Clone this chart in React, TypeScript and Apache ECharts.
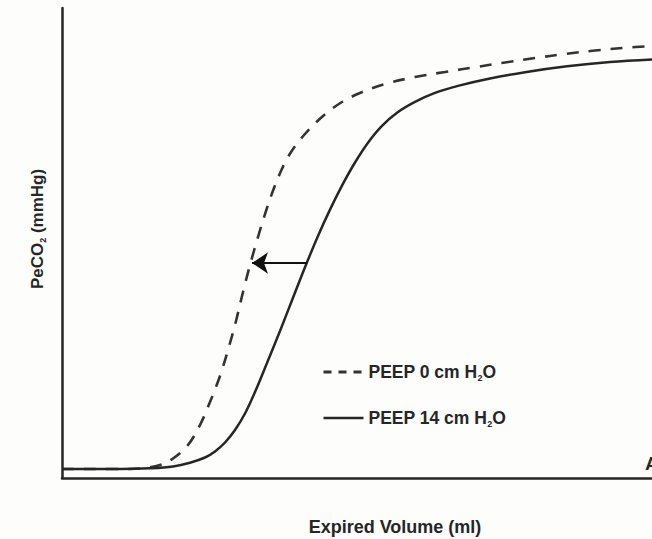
import React, { useEffect, useRef } from "react";
import * as echarts from "echarts";

// Expired volume (arbitrary ml scale) and PeCO2 (arbitrary mmHg scale)
const peep14Volume = [0, 58, 88, 111, 128, 143, 153, 163, 173, 183, 193, 205, 218, 231, 243, 256, 268, 280, 293, 306, 320, 336, 353, 373, 398, 428, 463, 505, 548, 590];
const peep14CO2 = [0.9, 0.9, 0.98, 1.16, 1.53, 2.05, 2.65, 3.55, 4.8, 6.45, 8.6, 11.5, 14.7, 18.02, 21.08, 24.2, 26.84, 29.24, 31.55, 33.53, 35.21, 36.59, 37.61, 38.51, 39.26, 39.95, 40.58, 41.17, 41.6, 41.85];

const peep0Volume = [0, 68, 83, 98, 111, 126, 138, 148, 158, 166, 174, 181, 188, 196, 204, 212, 219, 226, 234, 243, 254, 266, 280, 298, 323, 353, 383, 413, 443, 473, 503, 533, 563, 590];
const peep0CO2 = [0.9, 0.9, 1.0, 1.3, 1.95, 3.3, 5.3, 7.6, 10.2, 12.8, 15.7, 18.6, 21.3, 24.1, 26.7, 29.0, 30.7, 32.1, 33.3, 34.4, 35.55, 36.6, 37.6, 38.5, 39.4, 40.1, 40.6, 41.08, 41.55, 42.0, 42.4, 42.75, 43.02, 43.2];

// Arrow showing the leftward shift of the curve
const shiftFrom = [245, 21.5];
const shiftTo = [190, 21.5];

const seriesNames = ["PEEP 0 cm H2O", "PEEP 14 cm H2O"];
const legendLabels: Record<string, string> = {
  "PEEP 0 cm H2O": "PEEP 0 cm H{sub|2}O",
  "PEEP 14 cm H2O": "PEEP 14 cm H{sub|2}O",
};

const FONT = "'Liberation Sans', Arial, sans-serif";
const INK = "#262626";

const zip = (xs: number[], ys: number[]) => xs.map((x, i) => [x, ys[i]]);

export default function App() {
  const ref = useRef<HTMLDivElement>(null);

  useEffect(() => {
    if (!ref.current) return;
    const chart = echarts.init(ref.current, undefined, { renderer: "svg" });
    chart.setOption({
      animation: false,
      backgroundColor: "#fdfdfb",
      grid: { left: 62, right: 0, top: 8, bottom: 61 },
      xAxis: {
        type: "value",
        min: 0,
        max: 590,
        axisLine: { show: true, lineStyle: { color: INK, width: 2.5 } },
        axisTick: { show: false },
        axisLabel: { show: false },
        splitLine: { show: false },
      },
      yAxis: {
        type: "value",
        min: 0,
        max: 47,
        axisLine: { show: true, lineStyle: { color: INK, width: 2.5 } },
        axisTick: { show: false },
        axisLabel: { show: false },
        splitLine: { show: false },
      },
      legend: {
        orient: "vertical",
        left: 317,
        top: 357,
        itemWidth: 40,
        itemHeight: 20,
        itemGap: 26,
        itemStyle: { opacity: 0 },
        data: [
          { name: seriesNames[0], lineStyle: { type: [8, 7], width: 3 } },
          { name: seriesNames[1], lineStyle: { width: 2.5 } },
        ],
        formatter: (name: string) => legendLabels[name],
        textStyle: {
          fontFamily: FONT,
          fontWeight: "bold",
          fontSize: 17.5,
          lineHeight: 20,
          color: INK,
          rich: {
            sub: { fontFamily: FONT, fontWeight: "bold", fontSize: 9, lineHeight: 20, color: INK, padding: [11, 0, 0, 0] },
          },
        },
      },
      series: [
        {
          name: seriesNames[0],
          type: "line",
          data: zip(peep0Volume, peep0CO2),
          smooth: 0.35,
          symbol: "none",
          lineStyle: { color: "#333", width: 2.6, type: [12, 10] },
          itemStyle: { color: "#333" },
        },
        {
          name: seriesNames[1],
          type: "line",
          data: zip(peep14Volume, peep14CO2),
          smooth: 0.35,
          symbol: "none",
          lineStyle: { color: INK, width: 2.5 },
          itemStyle: { color: INK },
          markLine: {
            silent: true,
            symbol: ["none", "arrow"],
            symbolSize: 16,
            label: { show: false },
            lineStyle: { color: "#111", width: 2, type: "solid" },
            data: [[{ coord: shiftFrom }, { coord: shiftTo }]],
          },
        },
      ],
      graphic: [
        {
          type: "text",
          x: 37,
          y: 229,
          rotation: Math.PI / 2,
          style: {
            text: "PeCO{sub|2} (mmHg)",
            align: "center",
            verticalAlign: "middle",
            fontFamily: FONT,
            fontWeight: "bold",
            fontSize: 17,
            fill: INK,
            rich: {
              sub: { fontFamily: FONT, fontWeight: "bold", fontSize: 9, fill: INK, padding: [11, 0, 0, 0] },
            },
          },
        },
        {
          type: "text",
          x: 395,
          y: 527,
          style: {
            text: "Expired Volume (ml)",
            align: "center",
            verticalAlign: "middle",
            fontFamily: FONT,
            fontWeight: "bold",
            fontSize: 18,
            fill: INK,
          },
        },
        {
          type: "text",
          x: 645,
          y: 463,
          style: {
            text: "A",
            align: "left",
            verticalAlign: "middle",
            fontFamily: FONT,
            fontWeight: "bold",
            fontSize: 19,
            fill: INK,
          },
        },
      ],
    });
    return () => chart.dispose();
  }, []);

  return (
    <div
      ref={ref}
      style={{ position: "absolute", left: 0, top: 0, width: 652, height: 539 }}
    />
  );
}
